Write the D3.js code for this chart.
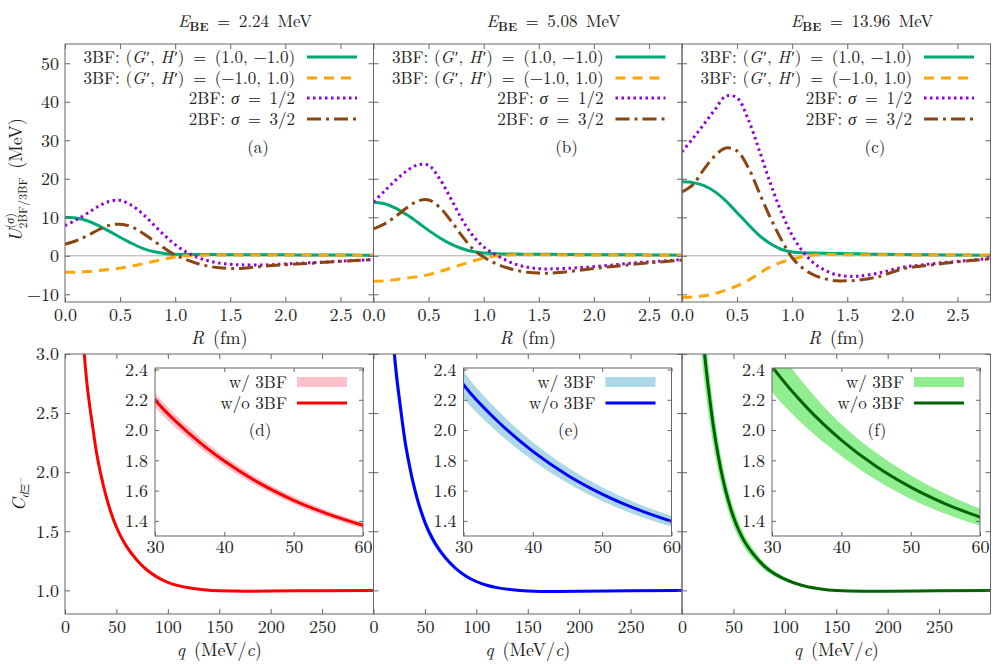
<!DOCTYPE html>
<html>
  <head>
    <meta charset="utf-8">
    <script src="https://cdn.jsdelivr.net/npm/d3@7"></script>
    <style>
      body { margin: 0; background: #fff; }
      svg text { font-family: "Latin Modern Roman", "CMU Serif", "Liberation Serif", serif; fill: #222; font-size: 17px; }
      .axis line { stroke: #666; }
      .axis text { font-size: 18px; fill: #222; font-family: "Latin Modern Roman", "CMU Serif", "Liberation Serif", serif; }
    </style>
  </head>
  <body>
    <script>
      // ---------- values ----------
      var energies = ["2.24", "5.08", "13.96"];
      var topTags = ["(a)", "(b)", "(c)"];
      var botTags = ["(d)", "(e)", "(f)"];

      // top row: potentials U(R) in MeV, one array per panel
      var rGrid = [0, 0.1, 0.2, 0.3, 0.4, 0.5, 0.6, 0.7, 0.8, 0.9, 1.0, 1.1, 1.2, 1.3, 1.4, 1.5, 1.6, 1.8, 2.0, 2.2, 2.4, 2.6, 2.8];

      // 3BF (G',H') = (1.0,-1.0)
      var u3bfPos = [
        [10.0, 9.8, 9.1, 7.9, 6.4, 4.8, 3.3, 2.0, 1.1, 0.6, 0.4, 0.35, 0.33, 0.32, 0.3, 0.3, 0.29, 0.27, 0.25, 0.22, 0.2, 0.18, 0.15],
        [13.9, 13.5, 12.4, 10.7, 8.7, 6.6, 4.7, 3.1, 1.9, 1.1, 0.7, 0.55, 0.48, 0.44, 0.41, 0.39, 0.37, 0.33, 0.3, 0.27, 0.24, 0.2, 0.17],
        [19.2, 19.0, 18.2, 16.6, 14.2, 11.2, 8.2, 5.3, 3.2, 1.7, 1.0, 0.75, 0.7, 0.65, 0.6, 0.55, 0.5, 0.4, 0.33, 0.27, 0.22, 0.18, 0.15]
      ];
      // 3BF (G',H') = (-1.0,1.0)
      var u3bfNeg = [
        [-4.3, -4.25, -4.1, -3.85, -3.55, -3.2, -2.7, -2.1, -1.5, -0.9, -0.3, 0.0, 0.15, 0.2, 0.2, 0.2, 0.2, 0.2, 0.2, 0.18, 0.16, 0.14, 0.12],
        [-6.6, -6.5, -6.2, -5.8, -5.4, -4.9, -4.1, -3.2, -2.3, -1.4, -0.6, -0.05, 0.2, 0.25, 0.25, 0.25, 0.25, 0.23, 0.21, 0.19, 0.17, 0.15, 0.13],
        [-10.8, -10.7, -10.4, -9.8, -8.9, -7.8, -6.4, -4.6, -2.9, -1.7, -0.9, -0.2, 0.2, 0.3, 0.3, 0.3, 0.3, 0.28, 0.25, 0.22, 0.2, 0.17, 0.15]
      ];
      // 2BF sigma = 1/2
      var u2bfHalf = [
        [7.8, 9.3, 11.0, 12.8, 14.1, 14.4, 13.2, 11.0, 8.2, 5.4, 2.9, 1.0, -0.4, -1.3, -1.9, -2.2, -2.35, -2.4, -2.1, -1.85, -1.55, -1.25, -1.0],
        [14.0, 16.8, 19.6, 22.0, 23.6, 23.5, 20.0, 15.0, 9.6, 5.3, 2.3, 0.4, -1.1, -2.3, -3.0, -3.35, -3.4, -3.2, -2.8, -2.3, -1.8, -1.4, -1.0],
        [27.0, 30.5, 34.2, 38.0, 41.5, 41.0, 35.5, 27.5, 19.0, 11.5, 5.3, 1.0, -2.0, -3.8, -4.9, -5.3, -5.3, -4.4, -3.0, -2.3, -1.7, -1.2, -0.7]
      ];
      // 2BF sigma = 3/2
      var u2bfThreeHalf = [
        [3.0, 3.9, 5.2, 6.7, 7.9, 8.2, 7.6, 6.0, 4.0, 2.0, 0.2, -1.0, -2.0, -2.7, -3.1, -3.3, -3.3, -2.7, -2.3, -2.0, -1.6, -1.3, -1.0],
        [7.0, 8.3, 10.2, 12.4, 14.2, 14.5, 12.6, 9.2, 5.3, 1.8, -0.3, -1.9, -3.0, -3.8, -4.3, -4.5, -4.5, -4.0, -3.3, -2.7, -2.1, -1.6, -1.1],
        [16.6, 18.5, 22.5, 26.0, 28.0, 27.2, 23.0, 16.5, 10.0, 4.3, -0.5, -3.3, -5.0, -6.0, -6.5, -6.5, -6.3, -5.3, -3.4, -2.6, -1.9, -1.3, -0.8]
      ];

      // bottom row: correlation function C(q)
      var qGrid = [18, 20, 22, 25, 28, 30, 35, 40, 45, 50, 55, 60, 70, 80, 90, 100, 110, 120, 135, 150, 175, 200, 250, 300];

      // w/o 3BF
      var cNo3bf = [
        [3.08, 2.87, 2.70, 2.50, 2.32, 2.20, 1.975, 1.795, 1.651, 1.536, 1.444, 1.37, 1.255, 1.17, 1.11, 1.068, 1.04, 1.022, 1.005, 0.996, 0.992, 0.994, 0.997, 0.999],
        [3.27, 3.03, 2.85, 2.63, 2.43, 2.30, 2.055, 1.859, 1.702, 1.577, 1.477, 1.397, 1.275, 1.185, 1.12, 1.075, 1.043, 1.023, 1.005, 0.995, 0.99, 0.992, 0.996, 0.999],
        [3.45, 3.2, 3.0, 2.76, 2.55, 2.42, 2.15, 1.934, 1.761, 1.623, 1.513, 1.425, 1.30, 1.205, 1.14, 1.095, 1.06, 1.035, 1.012, 0.999, 0.992, 0.993, 0.997, 0.999]
      ];
      // w/ 3BF band: lower and upper edges
      var cBandLo = [
        [3.0, 2.8, 2.638, 2.445, 2.27, 2.153, 1.937, 1.763, 1.623, 1.511, 1.422, 1.35, 1.24, 1.159, 1.101, 1.061, 1.035, 1.018, 1.003, 0.995, 0.991, 0.993, 0.996, 0.998],
        [3.09, 2.87, 2.71, 2.51, 2.33, 2.21, 1.983, 1.799, 1.65, 1.532, 1.437, 1.362, 1.248, 1.164, 1.104, 1.063, 1.034, 1.017, 1.002, 0.993, 0.989, 0.991, 0.995, 0.998],
        [3.09, 2.9, 2.74, 2.54, 2.36, 2.25, 2.015, 1.829, 1.671, 1.545, 1.447, 1.369, 1.258, 1.174, 1.117, 1.078, 1.049, 1.028, 1.008, 0.997, 0.991, 0.992, 0.996, 0.998]
      ];
      var cBandHi = [
        [3.16, 2.94, 2.762, 2.555, 2.37, 2.247, 2.013, 1.827, 1.679, 1.561, 1.466, 1.39, 1.27, 1.181, 1.119, 1.075, 1.045, 1.026, 1.007, 0.997, 0.993, 0.995, 0.998, 1.0],
        [3.45, 3.19, 2.99, 2.75, 2.53, 2.39, 2.127, 1.919, 1.754, 1.622, 1.517, 1.432, 1.302, 1.206, 1.136, 1.087, 1.052, 1.029, 1.008, 0.997, 0.991, 0.993, 0.997, 1.0],
        [3.81, 3.5, 3.26, 2.98, 2.74, 2.59, 2.285, 2.039, 1.851, 1.701, 1.579, 1.481, 1.342, 1.236, 1.163, 1.112, 1.071, 1.042, 1.016, 1.001, 0.993, 0.994, 0.998, 1.0]
      ];

      var uTicksX = [0, 0.5, 1.0, 1.5, 2.0, 2.5];
      var uTicksY = [-10, 0, 10, 20, 30, 40, 50];
      var cTicksX = [0, 50, 100, 150, 200, 250];
      var cTicksY = [1.0, 1.5, 2.0, 2.5, 3.0];
      var inTicksX = [30, 40, 50, 60];
      var inTicksY = [1.4, 1.6, 1.8, 2.0, 2.2, 2.4];

      // ---------- layout ----------
      var svgWidth = 996, svgHeight = 664;
      var panelLeft = [65, 373.5, 682];
      var panelW = 308.5;
      var topY0 = 44, topH = 258;
      var botY0 = 354, botH = 260;
      var inX = 90, inY = 14, inW = 208, inH = 168;

      var lineColors = ["#00a878", "#ffa500", "#9400d3", "#8b4513"];
      var lineDash = [null, "10,7", "2.5,3.5", "14,5,3,5"];
      var cLineColors = ["red", "blue", "darkgreen"];
      var cBandColors = ["pink", "lightblue", "lightgreen"];

      var svg = d3.select("body")
        .append("svg")
        .attr("width", svgWidth)
        .attr("height", svgHeight);

      // clip paths
      var defs = svg.append("defs");
      [["clipTop", panelW, topH], ["clipBot", panelW, botH], ["clipIn", inW, inH]].forEach(function(c) {
        defs.append("clipPath").attr("id", c[0])
          .append("rect").attr("width", c[1]).attr("height", c[2]);
      });

      // scales
      var xR = d3.scaleLinear().domain([0, 2.8]).range([0, panelW]);
      var yU = d3.scaleLinear().domain([-12, 55]).range([topH, 0]);
      var xQ = d3.scaleLinear().domain([0, 300]).range([0, panelW]);
      var yC = d3.scaleLinear().domain([0.8, 3.0]).range([botH, 0]);
      var xIn = d3.scaleLinear().domain([30, 60]).range([0, inW]);
      var yIn = d3.scaleLinear().domain([1.3, 2.41]).range([inH, 0]);

      var noLabel = function() { return ""; };

      // frame with inward ticks on all four sides
      function addAxes(g, x, y, w, h, xTicks, yTicks, xFmt, yFmt, tick, padX, padY) {
        g.append("g").attr("class", "axis")
          .attr("transform", "translate(0," + h + ")")
          .call(d3.axisBottom(x).tickValues(xTicks).tickFormat(xFmt).tickSizeInner(-tick).tickSizeOuter(0).tickPadding(padX));
        g.append("g").attr("class", "axis")
          .call(d3.axisTop(x).tickValues(xTicks).tickFormat(noLabel).tickSizeInner(-tick).tickSizeOuter(0));
        g.append("g").attr("class", "axis")
          .call(d3.axisLeft(y).tickValues(yTicks).tickFormat(yFmt).tickSizeInner(-tick).tickSizeOuter(0).tickPadding(padY));
        g.append("g").attr("class", "axis")
          .attr("transform", "translate(" + w + ",0)")
          .call(d3.axisRight(y).tickValues(yTicks).tickFormat(noLabel).tickSizeInner(-tick).tickSizeOuter(0));
        g.selectAll(".domain").remove();
        g.append("rect")
          .attr("width", w).attr("height", h)
          .attr("fill", "none").attr("stroke", "#666").attr("stroke-width", 1);
      }

      // text made of plain and italic pieces
      function rich(t, parts) {
        parts.forEach(function(p) {
          var s = t.append("tspan").text(p[0]);
          if (p[1]) s.style("font-style", "italic");
        });
        return t;
      }

      var legendTop = [
        [["3BF: ("], ["G", 1], ["\u200a\u2032, "], ["H", 1], ["\u200a\u2032)\u2002=\u2002(1.0, \u22121.0)"]],
        [["3BF: ("], ["G", 1], ["\u200a\u2032, "], ["H", 1], ["\u200a\u2032)\u2002=\u2002(\u22121.0, 1.0)"]],
        [["2BF: "], ["\u03c3", 1], ["\u2002=\u20021/2"]],
        [["2BF: "], ["\u03c3", 1], ["\u2002=\u20023/2"]]
      ];
      var legendRowY = [13, 34, 54, 75];

      // ---------- top row ----------
      [0, 1, 2].forEach(function(i) {
        var g = svg.append("g")
          .attr("transform", "translate(" + panelLeft[i] + "," + topY0 + ")");

        // zero line
        g.append("line")
          .attr("x1", 0).attr("x2", panelW)
          .attr("y1", yU(0)).attr("y2", yU(0))
          .attr("stroke", "#aaa").attr("stroke-width", 1);

        var series = [u3bfPos[i], u3bfNeg[i], u2bfHalf[i], u2bfThreeHalf[i]];
        var curves = g.append("g").attr("clip-path", "url(#clipTop)");
        var line = d3.line()
          .x(function(d, k) { return xR(rGrid[k]); })
          .y(function(d) { return yU(d); })
          .curve(d3.curveCatmullRom.alpha(0.5));

        series.forEach(function(s, j) {
          curves.append("path")
            .datum(s)
            .attr("d", line)
            .attr("fill", "none")
            .attr("stroke", lineColors[j])
            .attr("stroke-width", 3)
            .attr("stroke-dasharray", lineDash[j]);
        });

        addAxes(g, xR, yU, panelW, topH, uTicksX, uTicksY,
          d3.format(".1f"), i === 0 ? d3.format("d") : noLabel, 5, 6, 6);

        // legend
        legendTop.forEach(function(parts, j) {
          rich(g.append("text")
            .attr("x", 230).attr("y", legendRowY[j])
            .attr("dy", "0.35em")
            .attr("text-anchor", "end"), parts);
          g.append("line")
            .attr("x1", 242).attr("x2", 292)
            .attr("y1", legendRowY[j]).attr("y2", legendRowY[j])
            .attr("stroke", lineColors[j])
            .attr("stroke-width", 3)
            .attr("stroke-dasharray", lineDash[j]);
        });

        g.append("text")
          .attr("x", 193).attr("y", 103).attr("dy", "0.35em")
          .attr("text-anchor", "middle")
          .text(topTags[i]);

        // x label
        rich(g.append("text")
          .attr("x", panelW / 2).attr("y", 294).attr("dy", "0.35em")
          .attr("text-anchor", "middle")
          .style("font-size", "18px"), [["R", 1], ["\u00a0(fm)"]]);

        // title
        var t = svg.append("text")
          .attr("x", panelLeft[i] + 180).attr("y", 27)
          .attr("text-anchor", "middle");
        t.append("tspan").style("font-style", "italic").text("E");
        t.append("tspan").attr("dy", 4).style("font-size", "12px").style("font-weight", "bold").text("BE");
        t.append("tspan").attr("dy", -4).text("\u2002=\u2002" + energies[i] + "\u00a0MeV");
      });

      // ---------- bottom row ----------
      [0, 1, 2].forEach(function(i) {
        var g = svg.append("g")
          .attr("transform", "translate(" + panelLeft[i] + "," + botY0 + ")");

        function drawC(parent, x, y) {
          var area = d3.area()
            .x(function(d, k) { return x(qGrid[k]); })
            .y0(function(d, k) { return y(cBandLo[i][k]); })
            .y1(function(d, k) { return y(cBandHi[i][k]); })
            .curve(d3.curveMonotoneX);
          var line = d3.line()
            .x(function(d, k) { return x(qGrid[k]); })
            .y(function(d) { return y(d); })
            .curve(d3.curveMonotoneX);
          parent.append("path")
            .datum(cNo3bf[i])
            .attr("d", area)
            .attr("fill", cBandColors[i]);
          parent.append("path")
            .datum(cNo3bf[i])
            .attr("d", line)
            .attr("fill", "none")
            .attr("stroke", cLineColors[i])
            .attr("stroke-width", 3);
        }

        drawC(g.append("g").attr("clip-path", "url(#clipBot)"), xQ, yC);
        addAxes(g, xQ, yC, panelW, botH, cTicksX, cTicksY,
          d3.format("d"), i === 0 ? d3.format(".1f") : noLabel, 5, 6, 6);

        rich(g.append("text")
          .attr("x", panelW / 2).attr("y", 296).attr("dy", "0.35em")
          .attr("text-anchor", "middle")
          .style("font-size", "18px"), [["q", 1], ["\u00a0(MeV/"], ["c", 1], [")"]]);

        // inset
        var ins = g.append("g").attr("transform", "translate(" + inX + "," + inY + ")");
        ins.append("rect").attr("width", inW).attr("height", inH).attr("fill", "#fff");
        drawC(ins.append("g").attr("clip-path", "url(#clipIn)"), xIn, yIn);
        addAxes(ins, xIn, yIn, inW, inH, inTicksX, inTicksY,
          d3.format("d"), d3.format(".1f"), 4, 4, 7);

        ins.append("text")
          .attr("x", 132).attr("y", 14).attr("dy", "0.35em")
          .attr("text-anchor", "end").text("w/ 3BF");
        ins.append("rect")
          .attr("x", 142).attr("y", 9).attr("width", 50).attr("height", 10)
          .attr("fill", cBandColors[i]);
        ins.append("text")
          .attr("x", 132).attr("y", 35).attr("dy", "0.35em")
          .attr("text-anchor", "end").text("w/o 3BF");
        ins.append("line")
          .attr("x1", 142).attr("x2", 192).attr("y1", 35).attr("y2", 35)
          .attr("stroke", cLineColors[i]).attr("stroke-width", 3);
        ins.append("text")
          .attr("x", 105).attr("y", 62).attr("dy", "0.35em")
          .attr("text-anchor", "middle").text(botTags[i]);
      });

      // ---------- y axis labels ----------
      var yl = svg.append("text")
        .attr("transform", "translate(22,180) rotate(-90)")
        .attr("text-anchor", "middle")
        .style("font-size", "18px");
      yl.append("tspan").style("font-style", "italic").text("U");
      var sup = yl.append("tspan").attr("dy", -8).style("font-size", "12px");
      sup.append("tspan").text("(");
      sup.append("tspan").style("font-style", "italic").text("\u03c3");
      sup.append("tspan").text(")");
      var supW = sup.node().getComputedTextLength();
      yl.append("tspan").attr("dx", -supW).attr("dy", 13).style("font-size", "12px").text("2BF/3BF");
      yl.append("tspan").attr("dy", -5).text("\u00a0(MeV)");

      var cl = svg.append("text")
        .attr("transform", "translate(25,494) rotate(-90)")
        .attr("text-anchor", "middle")
        .style("font-size", "18px");
      cl.append("tspan").style("font-style", "italic").text("C");
      cl.append("tspan").attr("dy", 4).style("font-size", "12px").style("font-style", "italic").text("d");
      cl.append("tspan").style("font-size", "12px").text("\u039e");
      cl.append("tspan").attr("dy", -6).style("font-size", "9px").text("\u2212");
    </script>
  </body>
</html>
